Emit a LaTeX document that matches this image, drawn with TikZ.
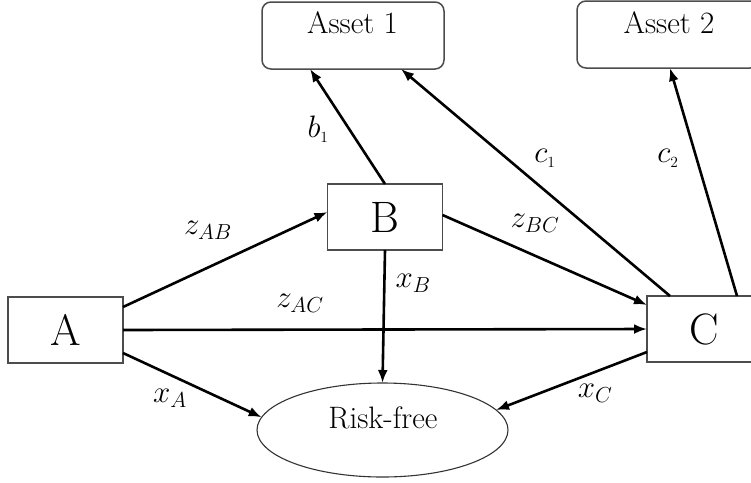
\RequirePackage{fix-cm}
\documentclass[tikz,border=0pt]{standalone}
\usetikzlibrary{arrows.meta,shapes.geometric,calc}
\begin{document}
\begin{tikzpicture}[x=1pt,y=-1pt,
  every node/.style={inner sep=0pt,outer sep=0pt},
  agent/.style={draw=black!70,line width=1.5pt,fill=white,minimum width=115pt,minimum height=66pt,font=\fontsize{44}{48}\selectfont},
  asset/.style={draw=black!70,line width=1.5pt,rounded corners=9pt,minimum width=182pt,minimum height=67pt},
  atext/.style={anchor=base,font=\fontsize{31}{36}\selectfont},
  safe/.style={ellipse,draw=black!80,line width=1.1pt,minimum width=251pt,minimum height=94pt},
  flow/.style={line width=2.6pt,-{Latex[length=13pt,width=10pt]}},
  lbl/.style={font=\fontsize{31}{36}\selectfont}]
\useasboundingbox (0,0) rectangle (751,482);

% asset boxes, with their titles near the top
\node[asset] (a1) at (353,35.5) {};
\node[atext] (a1t) at (352.5,33) {Asset 1};
\node[asset] (a2) at (668,34.5) {};
\node[atext] (a2t) at (669,33) {Asset 2};

% agents
\node[agent] (A) at (65.5,330) {A};
\node[agent] (B) at (385,217) {B};
\node[agent] (C) at (704.5,329) {C};

% risk-free asset
\node[safe] (rf) at (382.5,430) {};
\node[font=\fontsize{31}{36}\selectfont,anchor=base] (rft) at (383,428) {Risk-free};

% flows between agents (yshift is in page units: positive is upwards)
\draw[flow] ([yshift=23pt]A.east) -- ([yshift=5pt]B.west);
\draw[flow] (A.east) -- (C.west);
\draw[flow] ([yshift=2pt]B.east) -- ([yshift=24pt]C.west);

% flows into the risk-free asset
\draw[flow] ([yshift=-23pt]A.east) -- (rf.174);
\draw[flow] (B.south) -- (rf.north);
\draw[flow] ([yshift=-23pt]C.west) -- (rf.10);

% flows into the risky assets
\draw[flow] (B.north) -- ([xshift=48pt]a1.south west);
\draw[flow] ([xshift=23pt]C.north west) -- ([xshift=139pt]a1.south west);
\draw[flow] ([xshift=90pt]C.north west) -- ([xshift=93pt]a2.south west);

% labels
\node[lbl] (lab) at (208,230) {$z_{AB}$};
\node[lbl] (lac) at (300,303) {$z_{AC}$};
\node[lbl] (lbc) at (535,223) {$z_{BC}$};
\node[lbl] (lxa) at (170,398) {$x_A$};
\node[lbl] (lxb) at (413,283) {$x_B$};
\node[lbl] (lxc) at (595,393) {$x_C$};
\node[lbl] (lb1) at (318,129) {$b_{\scriptscriptstyle 1}$};
\node[lbl] (lc1) at (545,158) {$c_{\scriptscriptstyle 1}$};
\node[lbl] (lc2) at (668,158) {$c_{\scriptscriptstyle 2}$};
\end{tikzpicture}
\end{document}
